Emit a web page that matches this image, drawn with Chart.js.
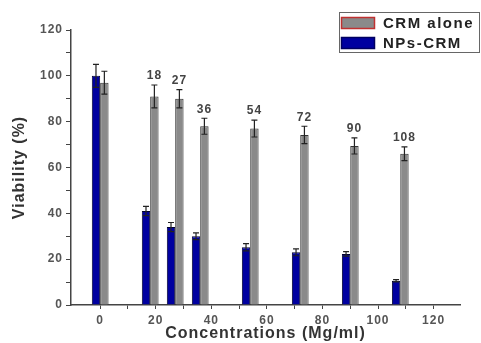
<!DOCTYPE html>
<html>
<head>
<meta charset="utf-8">
<script src="https://cdn.jsdelivr.net/npm/chart.js@4/dist/chart.umd.min.js"></script>
<style>
  body { margin: 0; background: #fff; }
  #myChart { display: block; }
</style>
</head>
<body>
<canvas id="myChart" width="481" height="343"></canvas>
<script>
'use strict';
// concentrations (Mg/ml)
let concentrations = [0, 18, 27, 36, 54, 72, 90, 108];
let npsCrm = [100, 41, 34, 30, 25.2, 23, 22.3, 10.6];
let npsCrmErr = [5, 2, 2, 1.5, 1.6, 1.5, 1, 0.5];
let crmAlone = [97, 91, 90, 78, 77, 74.2, 69.4, 66];
let crmAloneErr = [5, 5, 4, 3.5, 3.7, 3.8, 3.5, 3];
let xTicks = [0, 10, 20, 30, 40, 50, 60, 70, 80, 90, 100, 110, 120];
let yTicks = [0, 10, 20, 30, 40, 50, 60, 70, 80, 90, 100, 110, 120];

let blue = '#0000a0';
let grey = '#8a8a8a';

function spacing(chart) {
    chart.ctx.letterSpacing = '1px';
}

let errorBars = {
    id: 'errorBars',
    beforeLayout: spacing,
    beforeDraw: spacing,
    afterDatasetsDraw(chart) {
        let ctx = chart.ctx;
        let yScale = chart.scales.y;
        let errs = [npsCrmErr, crmAloneErr];
        let vals = [npsCrm, crmAlone];
        ctx.save();
        ctx.strokeStyle = '#222';
        ctx.lineWidth = 1.2;
        chart.data.datasets.forEach((ds, d) => {
            let meta = chart.getDatasetMeta(d);
            meta.data.forEach((bar, i) => {
                let top = yScale.getPixelForValue(vals[d][i] + errs[d][i]);
                let bot = yScale.getPixelForValue(vals[d][i] - errs[d][i]);
                ctx.beginPath();
                ctx.moveTo(bar.x, top);
                ctx.lineTo(bar.x, bot);
                ctx.moveTo(bar.x - 3, top);
                ctx.lineTo(bar.x + 3, top);
                ctx.moveTo(bar.x - 3, bot);
                ctx.lineTo(bar.x + 3, bot);
                ctx.stroke();
            });
        });
        // concentration labels over the CRM alone bars
        let meta = chart.getDatasetMeta(1);
        ctx.fillStyle = '#444';
        ctx.font = 'bold 12px "Liberation Sans", Arial, sans-serif';
        ctx.textAlign = 'center';
        ctx.textBaseline = 'middle';
        for (let i = 1; i < concentrations.length; i++) {
            let bar = meta.data[i];
            let top = yScale.getPixelForValue(crmAlone[i] + crmAloneErr[i]);
            ctx.fillText(String(concentrations[i]), bar.x, top - 9);
        }
        ctx.restore();
    },
    afterDraw(chart) {
        let ctx = chart.ctx;
        ctx.save();
        ctx.strokeStyle = '#666';
        ctx.lineWidth = 1;
        ctx.strokeRect(339.5, 12.5, 140, 40);
        let items = chart.data.datasets.slice().reverse();
        ctx.font = 'bold 15px "Liberation Sans", Arial, sans-serif';
        ctx.letterSpacing = '1.5px';
        ctx.textBaseline = 'middle';
        items.forEach((ds, k) => {
            let y = 17 + k * 20;
            ctx.fillStyle = ds.backgroundColor;
            ctx.fillRect(341, y, 34, 12);
            ctx.strokeStyle = ds.legendBorder;
            ctx.lineWidth = 1.5;
            ctx.strokeRect(341.5, y + 0.5, 33, 11);
            ctx.fillStyle = '#222';
            ctx.fillText(ds.label, 383, y + 7);
        });
        ctx.restore();
    }
};

let ctx = document.getElementById('myChart').getContext('2d');
let myChart = new Chart(ctx, {
    type: 'bar',
    data: {
        datasets: [{
            label: 'NPs-CRM',
            data: concentrations.map((c, i) => ({ x: c, y: npsCrm[i] })),
            backgroundColor: blue,
            borderColor: '#000030',
            legendBorder: '#000060',
            borderWidth: 1
        }, {
            label: 'CRM alone',
            data: concentrations.map((c, i) => ({ x: c, y: crmAlone[i] })),
            backgroundColor: grey,
            borderColor: '#333',
            legendBorder: '#c03030',
            borderWidth: 1
        }]
    },
    options: {
        responsive: false,
        animation: false,
        devicePixelRatio: 1,
        categoryPercentage: 0.67,
        barPercentage: 1,
        layout: { padding: { top: 30, right: 21, left: 0, bottom: 0 } },
        plugins: {
            legend: { display: false },
            tooltip: { enabled: false }
        },
        scales: {
            x: {
                type: 'linear',
                min: -10.5,
                max: 129.5,
                offset: false,
                afterBuildTicks: (scale) => { scale.ticks = xTicks.map(v => ({ value: v })); },
                afterFit: (scale) => { scale.height = 38; },
                grid: { offset: false, drawOnChartArea: false, color: '#444', tickLength: 4 },
                border: { color: '#444', width: 1.5 },
                ticks: {
                    autoSkip: false,
                    maxRotation: 0,
                    padding: 4,
                    color: '#555',
                    font: { family: '"Liberation Sans", Arial, sans-serif', weight: 'bold', size: 12 },
                    callback: (v) => (v % 20 === 0 ? v : '')
                },
                title: {
                    display: true,
                    text: 'Concentrations (Mg/ml)',
                    color: '#333',
                    padding: { top: 0, bottom: 0 },
                    font: { family: '"Liberation Sans", Arial, sans-serif', weight: 'bold', size: 16 }
                }
            },
            y: {
                min: 0,
                max: 120,
                afterBuildTicks: (scale) => { scale.ticks = yTicks.map(v => ({ value: v })); },
                afterFit: (scale) => { scale.width = 71; },
                grid: { drawOnChartArea: false, color: '#444', tickLength: 5 },
                border: { color: '#444', width: 1.5 },
                ticks: {
                    autoSkip: false,
                    padding: 3,
                    color: '#555',
                    font: { family: '"Liberation Sans", Arial, sans-serif', weight: 'bold', size: 12 },
                    callback: (v) => (v % 20 === 0 ? v : '')
                },
                title: {
                    display: true,
                    text: 'Viability (%)',
                    color: '#333',
                    padding: { top: 10, bottom: 0 },
                    font: { family: '"Liberation Sans", Arial, sans-serif', weight: 'bold', size: 16 }
                }
            }
        }
    },
    plugins: [errorBars]
});
</script>
</body>
</html>
